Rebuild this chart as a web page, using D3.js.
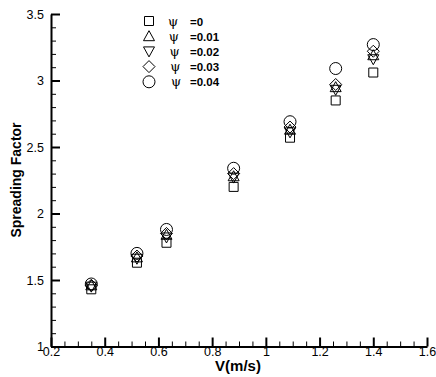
<!DOCTYPE html>
<html>
<head>
<meta charset="utf-8">
<script src="https://cdn.jsdelivr.net/npm/d3@7"></script>
<style>
body { margin: 0; background: #fff; }
text { font-family: "Liberation Sans", Arial, sans-serif; }
</style>
</head>
<body>
<div id="chart"></div>
<script>
// velocity values (m/s)
var velocity = [0.35, 0.52, 0.63, 0.88, 1.09, 1.26, 1.40];
var psiLabels = ["=0", "=0.01", "=0.02", "=0.03", "=0.04"];
var psi0 = [1.43, 1.63, 1.78, 2.20, 2.57, 2.85, 3.06];
var psi001 = [1.46, 1.67, 1.84, 2.28, 2.63, 2.95, 3.19];
var psi002 = [1.45, 1.66, 1.82, 2.27, 2.61, 2.93, 3.16];
var psi003 = [1.46, 1.68, 1.85, 2.30, 2.65, 2.97, 3.22];
var psi004 = [1.47, 1.70, 1.88, 2.34, 2.69, 3.09, 3.27];
var xTicks = [0.2, 0.4, 0.6, 0.8, 1, 1.2, 1.4, 1.6];
var yTicks = [1, 1.5, 2, 2.5, 3, 3.5];

var param = {
	width : 436,
	height : 377,
	left : 51,
	right : 427,
	top : 14,
	bottom : 346.5
};

var series = [
	{name : psiLabels[0], shape : "square", values : psi0},
	{name : psiLabels[1], shape : "triUp", values : psi001},
	{name : psiLabels[2], shape : "triDown", values : psi002},
	{name : psiLabels[3], shape : "diamond", values : psi003},
	{name : psiLabels[4], shape : "circle", values : psi004}
];

// marker outlines, centred on 0,0
function shapePath(shape) {
	switch (shape) {
		case "square": return "M-4.5,-4.5H4.5V4.5H-4.5Z";
		case "triUp": return "M0,-5.5L5.5,4.5L-5.5,4.5Z";
		case "triDown": return "M0,5.5L5.5,-4.5L-5.5,-4.5Z";
		case "diamond": return "M0,-6L6,0L0,6L-6,0Z";
		case "circle": return "M6,0A6,6 0 1,1 -6,0A6,6 0 1,1 6,0Z";
	}
}

var svg = d3.select("#chart")
            .append("svg")
            .attr("width", param.width)
            .attr("height", param.height);

var x = d3.scaleLinear().domain([0.2, 1.6]).range([param.left, param.right]);
var y = d3.scaleLinear().domain([1, 3.5]).range([param.bottom, param.top]);

// minor ticks first
svg.append("g")
   .attr("transform", "translate(0," + param.bottom + ")")
   .call(d3.axisBottom(x).tickValues(d3.range(0.25, 1.6, 0.05).filter(function(v) {
   	return Math.abs(v * 5 - Math.round(v * 5)) > 0.01;
   })).tickSizeInner(-5).tickSizeOuter(0).tickFormat(""))
   .call(function(g) {
   	g.select(".domain").remove();
   	g.selectAll("line").attr("stroke-width", 1);
   });

svg.append("g")
   .attr("transform", "translate(" + param.left + ",0)")
   .call(d3.axisLeft(y).tickValues(d3.range(1.1, 3.5, 0.1).filter(function(v) {
   	return Math.abs(v * 2 - Math.round(v * 2)) > 0.01;
   })).tickSizeInner(-5).tickSizeOuter(0).tickFormat(""))
   .call(function(g) {
   	g.select(".domain").remove();
   	g.selectAll("line").attr("stroke-width", 1);
   });

// major ticks
var xAxis = svg.append("g")
   .attr("transform", "translate(0," + param.bottom + ")")
   .call(d3.axisBottom(x).tickValues(xTicks).tickSizeInner(-9).tickSizeOuter(0).tickPadding(4).tickFormat(d3.format("")));
xAxis.select(".domain").attr("stroke-width", 2);
xAxis.selectAll("line").attr("stroke-width", 2);
xAxis.selectAll("text").attr("font-size", 12.5).attr("dy", "0.4em")
     .style("font-family", "Liberation Sans, Arial, sans-serif");

var yAxis = svg.append("g")
   .attr("transform", "translate(" + param.left + ",0)")
   .call(d3.axisLeft(y).tickValues(yTicks).tickSizeInner(-9).tickSizeOuter(0).tickPadding(7).tickFormat(d3.format("")));
yAxis.select(".domain").attr("stroke-width", 2);
yAxis.selectAll("line").attr("stroke-width", 2);
yAxis.selectAll("text").attr("font-size", 12.5)
     .style("font-family", "Liberation Sans, Arial, sans-serif");

// axis titles
svg.append("text")
   .attr("x", 238)
   .attr("y", 371)
   .attr("text-anchor", "middle")
   .style("font-size", "15px")
   .style("font-weight", "bold")
   .text("V(m/s)");

svg.append("text")
   .attr("transform", "translate(21,180) rotate(-90)")
   .attr("text-anchor", "middle")
   .style("font-size", "14px")
   .style("font-weight", "bold")
   .text("Spreading Factor");

// data markers
series.forEach(function(s) {
	svg.append("g")
	   .selectAll("path")
	   .data(s.values)
	   .enter()
	   .append("path")
	   .attr("d", shapePath(s.shape))
	   .attr("transform", function(d, i) {return "translate(" + x(velocity[i]) + "," + y(d) + ")"})
	   .style("fill", "none")
	   .style("stroke", "black")
	   .style("stroke-width", 1);
});

// legend
var legend = svg.append("g")
                .selectAll(".legendRow")
                .data(series)
                .enter()
                .append("g")
                .attr("class", "legendRow")
                .attr("transform", function(d, i) {return "translate(149," + (21 + i * 15.2) + ")"});

legend.append("path")
      .attr("d", function(d) {return shapePath(d.shape)})
      .style("fill", "none")
      .style("stroke", "black")
      .style("stroke-width", 1);

legend.append("text")
      .attr("x", function(d, i) {return 24 + i * 0.8})
      .attr("y", 4.5)
      .attr("text-anchor", "middle")
      .style("font-family", "DejaVu Serif, serif")
      .style("font-size", "13px")
      .text("\u03C8");

legend.append("text")
      .attr("x", 41)
      .attr("y", 4.5)
      .style("font-size", "11.5px")
      .style("font-weight", "bold")
      .text(function(d) {return d.name});
</script>
</body>
</html>
